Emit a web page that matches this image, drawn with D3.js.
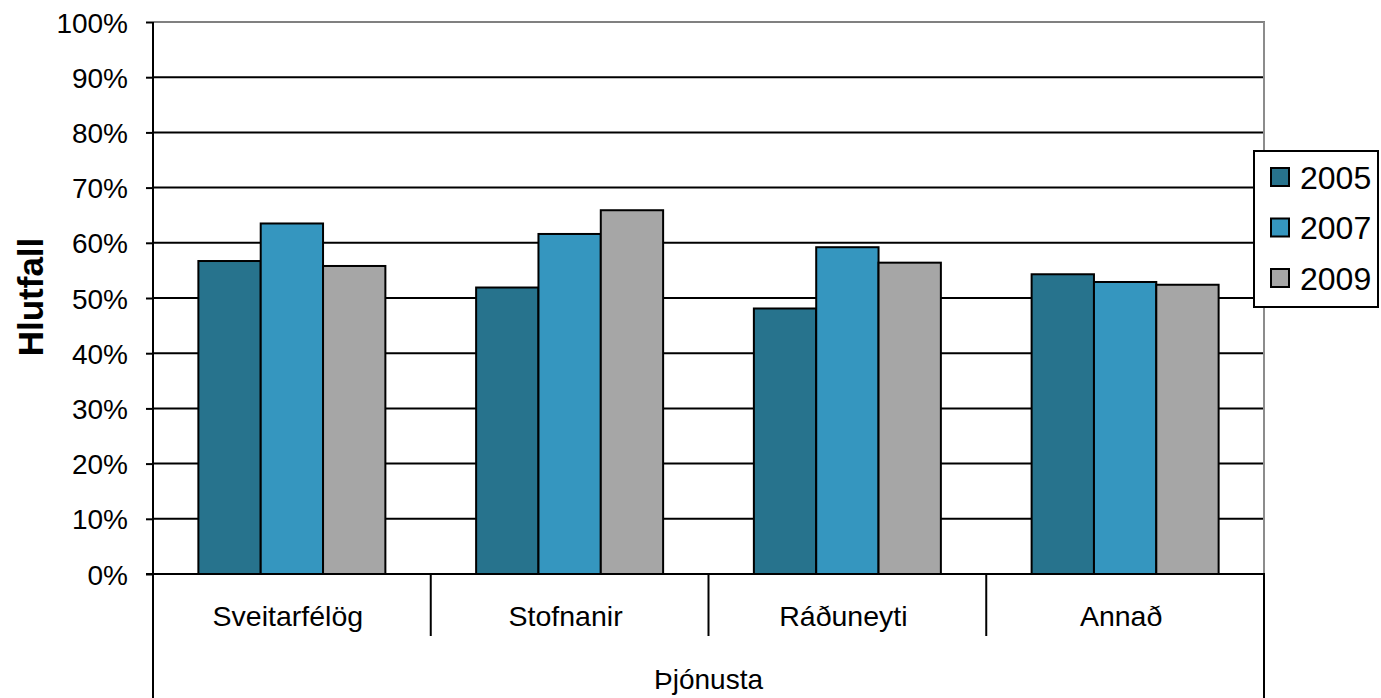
<!DOCTYPE html>
<html>
<head>
<meta charset="utf-8">
<script src="https://cdn.jsdelivr.net/npm/d3@7"></script>
<style>
  html, body { margin: 0; padding: 0; background: #fff; }
  svg { display: block; font-family: "Liberation Sans", Arial, sans-serif; }
</style>
</head>
<body>
<svg id="chart" width="1381" height="698"></svg>
<script>
const categories = ["Sveitarfélög", "Stofnanir", "Ráðuneyti", "Annað"];
const seriesNames = ["2005", "2007", "2009"];
const values2005 = [56.7, 51.9, 48.1, 54.3];
const values2007 = [63.5, 61.6, 59.2, 52.9];
const values2009 = [55.8, 65.9, 56.4, 52.4];
const seriesColors = ["#27738D", "#3596BF", "#A6A6A6"];
const yTicks = [0, 10, 20, 30, 40, 50, 60, 70, 80, 90, 100];
const yTitle = "Hlutfall";
const xTitle = "Þjónusta";

(function () {
const seriesValues = [values2005, values2007, values2009];
const data = categories.map((c, i) => ({
  category: c,
  values: seriesNames.map((s, j) => ({ series: s, value: seriesValues[j][i], color: seriesColors[j] }))
}));

const svg = d3.select("#chart");
const pLeft = 153, pRight = 1264, pTop = 22, pBottom = 574;

const x0 = d3.scaleBand().domain(categories).range([pLeft, pRight]).paddingInner(0).paddingOuter(0);
const x1 = d3.scaleBand().domain(seriesNames).range([0, x0.bandwidth()]).paddingInner(0).paddingOuter(0.728);
const y = d3.scaleLinear().domain([0, 100]).range([pBottom, pTop]);

// gridlines (excluding top which is border)
svg.append("g").selectAll("line").data(yTicks.filter(t => t > 0 && t < 100)).join("line")
  .attr("x1", pLeft).attr("x2", pRight)
  .attr("y1", d => y(d)).attr("y2", d => y(d))
  .attr("stroke", "#000").attr("stroke-width", 2);

// plot border top & right (gray)
svg.append("line").attr("x1", pLeft).attr("x2", pRight + 1).attr("y1", y(100)).attr("y2", y(100))
  .attr("stroke", "#808080").attr("stroke-width", 2);
svg.append("line").attr("x1", pRight).attr("x2", pRight).attr("y1", y(100)).attr("y2", pBottom)
  .attr("stroke", "#8c8c8c").attr("stroke-width", 2);

// bars
const groups = svg.append("g").selectAll("g").data(data).join("g")
  .attr("transform", d => `translate(${x0(d.category)},0)`);
groups.selectAll("rect").data(d => d.values).join("rect")
  .attr("x", d => x1(d.series))
  .attr("width", x1.bandwidth())
  .attr("y", d => y(d.value))
  .attr("height", d => y(0) - y(d.value))
  .attr("fill", d => d.color)
  .attr("stroke", "#000").attr("stroke-width", 2);

// y axis
const yAxis = d3.axisLeft(y).tickValues(yTicks).tickFormat(d => d + "%").tickSize(7).tickPadding(18);
const gy = svg.append("g").attr("transform", `translate(${pLeft},0)`).call(yAxis);
gy.select(".domain").remove();
gy.selectAll(".tick line").attr("stroke", "#000").attr("stroke-width", 2);
gy.selectAll(".tick text").attr("font-size", 28).attr("fill", "#000")
  .attr("font-family", "'Liberation Sans', Arial, sans-serif").attr("dy", "0.36em");

// vertical axis line extends to bottom
svg.append("line").attr("x1", pLeft).attr("x2", pLeft).attr("y1", pTop).attr("y2", 698)
  .attr("stroke", "#000").attr("stroke-width", 2);
// right bottom line
svg.append("line").attr("x1", pRight).attr("x2", pRight).attr("y1", pBottom).attr("y2", 698)
  .attr("stroke", "#000").attr("stroke-width", 2);
// x axis line
svg.append("line").attr("x1", pLeft - 7).attr("x2", pRight + 1).attr("y1", pBottom).attr("y2", pBottom)
  .attr("stroke", "#000").attr("stroke-width", 2);
// category dividers
svg.append("g").selectAll("line").data(categories.slice(1)).join("line")
  .attr("x1", d => x0(d)).attr("x2", d => x0(d))
  .attr("y1", pBottom).attr("y2", 636)
  .attr("stroke", "#000").attr("stroke-width", 2);

// category labels
svg.append("g").selectAll("text").data(categories).join("text")
  .attr("x", d => x0(d) + x0.bandwidth() / 2 - 4)
  .attr("y", 626)
  .attr("text-anchor", "middle")
  .attr("font-size", 28.5).attr("fill", "#000")
  .text(d => d);

// x title
svg.append("text").attr("x", (pLeft + pRight) / 2).attr("y", 689)
  .attr("text-anchor", "middle").attr("font-size", 28).attr("fill", "#000").text(xTitle);

// y title
svg.append("text").attr("transform", `translate(43,297) rotate(-90)`)
  .attr("text-anchor", "middle").attr("font-size", 35).attr("font-weight", "bold")
  .attr("fill", "#000").text(yTitle);

// legend
const legend = svg.append("g");
legend.append("rect").attr("x", 1254).attr("y", 151).attr("width", 124).attr("height", 156)
  .attr("fill", "#fff").attr("stroke", "#000").attr("stroke-width", 2);
const items = legend.selectAll("g").data(seriesNames).join("g")
  .attr("transform", (d, i) => `translate(0,${177 + i * 50.5})`);
items.append("rect").attr("x", 1271).attr("y", -9).attr("width", 18).attr("height", 18)
  .attr("fill", (d, i) => seriesColors[i]).attr("stroke", "#000").attr("stroke-width", 2);
items.append("text").attr("x", 1300).attr("y", 0).attr("dy", "0.36em")
  .attr("font-size", 32).attr("fill", "#000").text(d => d);
})();
</script>
</body>
</html>
